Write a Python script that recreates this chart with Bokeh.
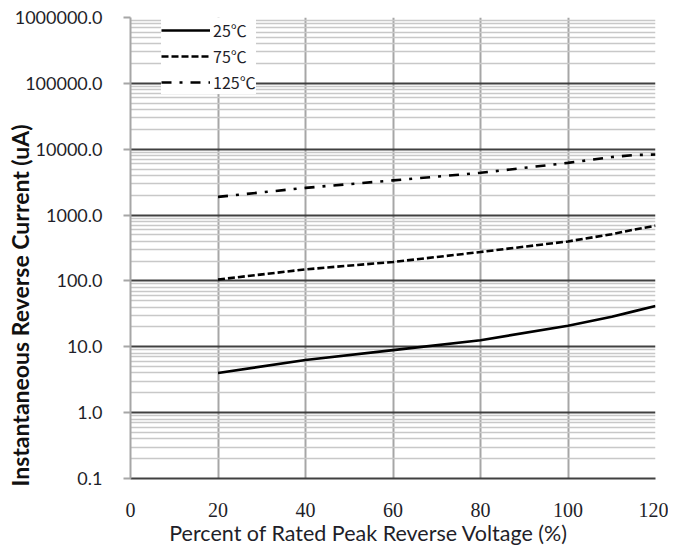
import math
from bokeh.plotting import figure
from bokeh.models import (FixedTicker, CustomJSTickFormatter, Legend, LegendItem,
                          Range1d)
from bokeh.embed import file_html
from bokeh.resources import INLINE

# ---- data ----
voltage_pct = [20, 40, 60, 80, 100, 110, 115, 120]
current_25c = [4.0, 6.3, 8.9, 12.6, 20.8, 28.6, 34.5, 41.5]
current_75c = [105, 150, 194, 275, 398, 513, 600, 690]
current_125c = [1890, 2590, 3360, 4380, 6200, 7600, 8150, 8300]
series_labels = ["25℃", "75℃", "125℃"]
x_ticks = [0, 20, 40, 60, 80, 100, 120]
y_decades = [-1, 0, 1, 2, 3, 4, 5, 6]
x_title = "Percent of  Rated Peak Reverse Voltage (%)"
y_title = "Instantaneous Reverse Current (uA)"

y_major = [10.0 ** d for d in y_decades]
y_minor = [k * 10.0 ** d for d in y_decades[:-1] for k in range(2, 10)]

p = figure(width=668, height=552, y_axis_type="log",
           x_range=Range1d(0, 120), y_range=Range1d(0.1, 1e6),
           output_backend="svg", toolbar_location=None,
           min_border_left=130, min_border_right=13,
           min_border_top=17, min_border_bottom=74)
p.outline_line_color = None
p.background_fill_color = "white"

# axes
p.xaxis.ticker = FixedTicker(ticks=x_ticks)
p.yaxis.ticker = FixedTicker(ticks=y_major, minor_ticks=y_minor)
p.yaxis.formatter = CustomJSTickFormatter(code="return tick.toFixed(1);")

p.xaxis.axis_line_color = "#404040"
p.xaxis.axis_line_width = 2
p.xaxis.major_tick_out = 0
p.xaxis.major_tick_in = 0
p.xaxis.minor_tick_out = 0
p.xaxis.major_label_standoff = 24
p.xaxis.major_label_text_font = "Liberation Serif"
p.xaxis.major_label_text_font_size = "20px"
p.xaxis.major_label_text_color = "#1f1f2a"
# trailing wide spaces shift the centred title left, as in the reference
p.xaxis.axis_label = x_title + "\u2003\u2003\u2002"
p.xaxis.axis_label_text_font = "Lato"
p.xaxis.axis_label_text_font_style = "normal"
p.xaxis.axis_label_text_font_size = "21.5px"
p.xaxis.axis_label_text_color = "#1f1f2a"
p.xaxis.axis_label_standoff = 0

p.yaxis.axis_line_color = "#a6a6a6"
p.yaxis.axis_line_width = 2
p.yaxis.major_tick_out = 7
p.yaxis.major_tick_in = 0
p.yaxis.major_tick_line_color = "#a6a6a6"
p.yaxis.major_tick_line_width = 2
p.yaxis.minor_tick_out = 0
p.yaxis.minor_tick_in = 0
p.yaxis.major_label_standoff = 21
p.yaxis.major_label_text_font = "Lato"
p.yaxis.major_label_text_font_size = "18px"
p.yaxis.major_label_text_color = "#1f1f2a"
# trailing wide spaces shift the centred title downwards, as in the reference
p.yaxis.axis_label = y_title + "\u2003" * 6 + "\u2002"
p.yaxis.axis_label_text_font = "Lato"
p.yaxis.axis_label_text_font_style = "bold"
p.yaxis.axis_label_text_font_size = "23px"
p.yaxis.axis_label_text_color = "#111111"
p.yaxis.axis_label_standoff = -22

# grids
p.xgrid.grid_line_color = "#a6a6a6"
p.xgrid.grid_line_width = 2
p.ygrid.grid_line_color = "#404040"
p.ygrid.grid_line_width = 2
p.ygrid.minor_grid_line_color = "#c8c8c8"
p.ygrid.minor_grid_line_width = 1.5
p.xgrid.level = "underlay"
p.ygrid.level = "underlay"

# curves
r25 = p.line(voltage_pct, current_25c, line_color="black", line_width=2.6)
r75 = p.line(voltage_pct, current_75c, line_color="black", line_width=2.6,
             line_dash="7 3")
r125 = p.line(voltage_pct, current_125c, line_color="black", line_width=2.6,
              line_dash="10 8 3 8")

legend = Legend(items=[LegendItem(label=series_labels[0], renderers=[r25]),
                       LegendItem(label=series_labels[1], renderers=[r75]),
                       LegendItem(label=series_labels[2], renderers=[r125])],
                location=(31, 384))
legend.background_fill_color = "white"
legend.background_fill_alpha = 1.0
legend.border_line_color = None
legend.padding = 2
legend.margin = 0
legend.spacing = 2
legend.glyph_width = 49
legend.glyph_height = 14
legend.label_height = 14
legend.label_standoff = 3
legend.label_text_font = "Noto Sans CJK JP"
legend.label_text_font_size = "16px"
legend.label_text_color = "#1f1f2a"
p.add_layout(legend, "center")

open("out.html", "w").write(file_html(p, INLINE))
